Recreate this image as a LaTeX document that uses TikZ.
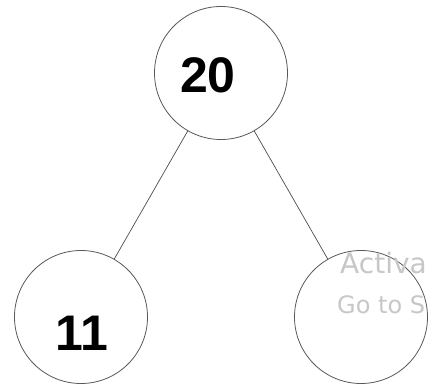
\documentclass[tikz,border=0pt]{standalone}
\usepackage{fontspec}
\setmainfont{Liberation Sans}
\newfontfamily\wmfont{DejaVu Sans}
\usepackage{tikz}
\usetikzlibrary{calc}

\tikzset{
  vertex/.style={draw=black!65,line width=0.8pt,circle,fill=white,inner sep=0pt,minimum size=133pt},
  key/.style={font=\fontsize{50}{50}\selectfont\bfseries},
  edge/.style={black!70,line width=0.7pt},
  mark text/.style={anchor=base west,text=black!22,inner sep=0pt}
}

\begin{document}
\begin{tikzpicture}[x=1pt,y=-1pt]
  \useasboundingbox (0,0) rectangle (436,387);

  \node[vertex] (top)   at (221,73)  {};
  \node[vertex] (left)  at (81,317)  {};
  \node[vertex] (right) at (361,317) {};

  \node[key] (ktop)  at ($(top)+(-13,2)$)  {20};
  \node[key] (kleft) at ($(left)+(1,16)$)  {11};

  \draw[edge] (top) -- (left);
  \draw[edge] (top) -- (right);

  % watermark
  \node[mark text,font=\wmfont\fontsize{28}{28}\selectfont] (wm1) at (340,273) {Activa};
  \node[mark text,font=\wmfont\fontsize{24}{24}\selectfont] (wm2) at (337,313) {Go to S};
\end{tikzpicture}
\end{document}
